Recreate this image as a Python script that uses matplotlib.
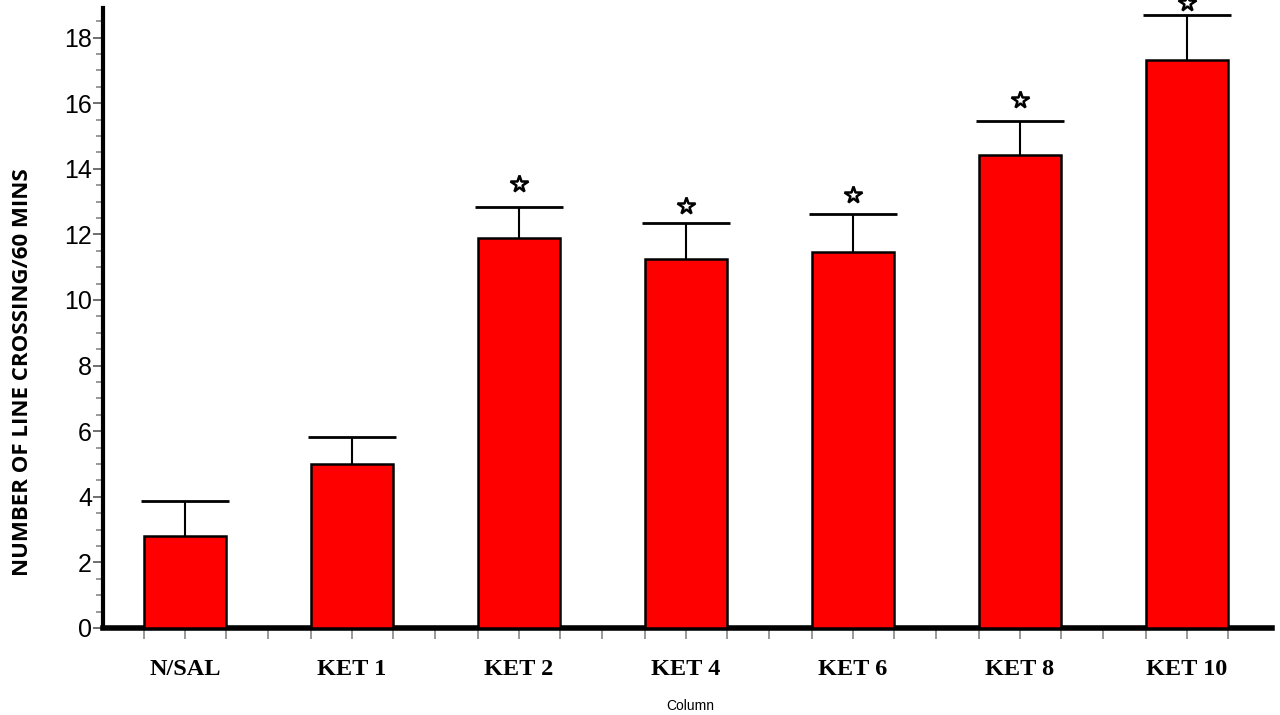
import matplotlib
matplotlib.use('Agg')
import matplotlib.pyplot as plt
import numpy as np
from matplotlib.ticker import MultipleLocator, FixedLocator

groups = ['N/SAL', 'KET 1', 'KET 2', 'KET 4', 'KET 6', 'KET 8', 'KET 10']
means = [2.80, 5.00, 11.88, 11.24, 11.45, 14.41, 17.33]
sem = [1.07, 0.82, 0.94, 1.10, 1.16, 1.06, 1.37]
star_y = [None, None, 13.52, 12.85, 13.19, 16.11, 19.05]

fig = plt.figure(figsize=(12.8, 7.15), dpi=100)
ax = fig.add_axes([0.0805, 0.1217, 0.9133, 0.8671])

x = np.arange(len(groups))
w = 0.49
ax.bar(x, means, width=w, color='#ff0000', edgecolor='black', linewidth=1.8, zorder=3)

# upper error bars only (line + cap)
tops = np.array(means) + np.array(sem)
ax.vlines(x, means, tops, color='black', linewidth=1.5, zorder=2)
ax.hlines(tops, x - w / 2 - 0.02, x + w / 2 + 0.02, color='black', linewidth=2, zorder=2)

for xi, sy in zip(x, star_y):
    if sy is not None:
        ax.plot(xi, sy, marker='*', markersize=13, mfc='white', mec='black',
                mew=1.8, clip_on=False, zorder=4)

ax.set_xlim(-0.49, 6.51)
ax.set_ylim(0, 18.9)

ax.spines['top'].set_visible(False)
ax.spines['right'].set_visible(False)
ax.spines['left'].set_linewidth(3)
ax.spines['bottom'].set_linewidth(4)

ax.yaxis.set_major_locator(MultipleLocator(2))
ax.yaxis.set_minor_locator(MultipleLocator(0.5))
ax.tick_params(axis='y', which='major', direction='out', length=7, width=1.2,
               color='#555555', pad=1)
ax.tick_params(axis='y', which='minor', direction='out', length=5, width=1.2,
               color='#888888')
for lab in ax.get_yticklabels():
    lab.set_family(['Liberation Sans Narrow', 'Liberation Sans', 'DejaVu Sans'])
    lab.set_fontsize(18)

ax.set_xticks(x)
ax.set_xticklabels(groups, family=['Liberation Serif', 'DejaVu Serif'],
                   fontweight='bold', fontsize=17.5)
minor = sorted(set(list(x - w / 2) + list(x + w / 2) + list(x[:-1] + 0.5)))
ax.xaxis.set_minor_locator(FixedLocator(minor))
ax.tick_params(axis='x', which='both', direction='out', length=8, width=1.2,
               color='#888888', pad=14)

ax.set_ylabel('NUMBER OF LINE CROSSING/60 MINS', family=['Open Sans', 'DejaVu Sans'],
              fontweight='bold', fontsize=16)
ax.yaxis.set_label_coords(-0.06, 0.413)

fig.text(0.539, 0.012, 'Column', ha='center', va='center', fontsize=10,
         family=['Liberation Sans', 'DejaVu Sans'])

fig.savefig('out.png', dpi=100)
